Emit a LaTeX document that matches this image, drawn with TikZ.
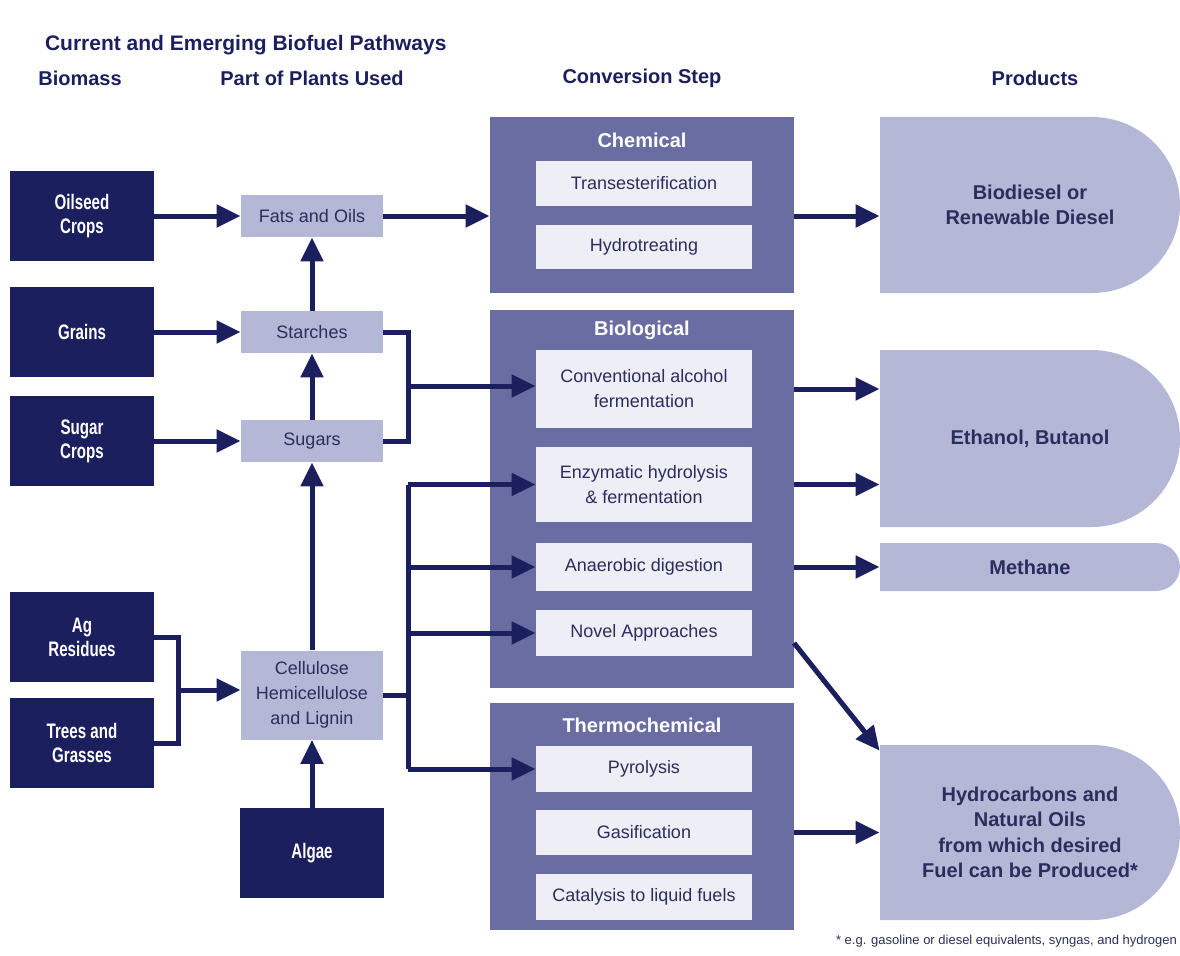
\documentclass[tikz,border=0pt]{standalone}
\usepackage{fontspec}
\setmainfont{Liberation Sans}
\newfontfamily\narrowfont{Liberation Sans}[FakeStretch=0.72]
\usetikzlibrary{positioning}
\usetikzlibrary{arrows.meta}
\definecolor{navy}{RGB}{27,31,94}
\definecolor{lav}{RGB}{181,183,215}
\definecolor{convcol}{RGB}{106,109,161}
\definecolor{inner}{RGB}{238,238,246}
\definecolor{ink}{RGB}{42,46,92}

\begin{document}
\begin{tikzpicture}[x=0.5pt,y=-0.5pt,
  biobox/.style={rectangle,fill=navy,text=white,font=\narrowfont\bfseries\fontsize{10.5}{12}\selectfont,minimum width=72pt,minimum height=45pt,align=center,inner sep=0pt},
  partbox/.style={rectangle,fill=lav,text=ink,font=\fontsize{9}{12.5}\selectfont,minimum width=71pt,minimum height=21pt,align=center,inner sep=0pt},
  convbox/.style={rectangle,fill=convcol,minimum width=152pt,inner sep=0pt},
  convtitle/.style={text=white,font=\bfseries\fontsize{10}{12}\selectfont},
  stepbox/.style={rectangle,fill=inner,text=ink,font=\fontsize{9}{12.5}\selectfont,minimum width=108pt,align=center,inner sep=0pt},
  prodbox/.style={rectangle,minimum width=150pt,minimum height=2*#1,inner sep=0pt,align=center,
    text=ink,font=\bfseries\fontsize{10}{12.7}\selectfont,
    path picture={\fill[lav,rounded corners=#1] ([xshift=-#1]path picture bounding box.north west) rectangle (path picture bounding box.south east);}},
  header/.style={text=navy,font=\bfseries\fontsize{10}{12}\selectfont},
  arr/.style={-{Triangle[length=12pt,width=11pt]},line width=2.5pt,draw=navy},
  lnk/.style={line width=2.5pt,draw=navy}]
\useasboundingbox (0,0) rectangle (1180,955);

\node[anchor=west,text=navy,font=\bfseries\fontsize{10.5}{13}\selectfont] (title) at (38,45) {Current and Emerging Biofuel Pathways};
\node[header] (hBiomass) at (80,78) {Biomass};
\node[header] (hParts) at (312,78) {Part of Plants Used};
\node[header] (hConv) at (642,78) {Conversion Step};
\node[header] (hProd) at (1035,78) {Products};

% biomass
\node[biobox] (oilseed) at (82,216) {Oilseed\\Crops};
\node[biobox] (grains) at (82,332) {Grains};
\node[biobox] (sugarcrops) at (82,441) {Sugar\\Crops};
\node[biobox] (agres) at (82,637) {Ag\\Residues};
\node[biobox] (trees) at (82,743) {Trees and\\Grasses};
\node[biobox] (algae) at (312,853) {Algae};

% parts of plants
\node[partbox] (fats) at (312,216) {Fats and Oils};
\node[partbox] (starches) at (312,332) {Starches};
\node[partbox] (sugars) at (312,441) {Sugars};
\node[partbox,minimum height=44.5pt] (cellulose) at (312,695) {Cellulose\\Hemicellulose\\and Lignin};

% conversion steps
\node[convbox,minimum height=88pt] (chem) at (642,205) {};
\node[convtitle] (chemT) at (642,140) {Chemical};
\node[stepbox,minimum height=22.5pt] (transest) at (644,183.5) {Transesterification};
\node[stepbox,minimum height=22pt] (hydrotr) at (644,247) {Hydrotreating};

\node[convbox,minimum height=189pt] (biol) at (642,499) {};
\node[convtitle] (biolT) at (642,330) {Biological};
\node[stepbox,minimum height=39pt] (convferm) at (644,389) {Conventional alcohol\\fermentation};
\node[stepbox,minimum height=37.5pt] (enzym) at (644,484.5) {Enzymatic hydrolysis\\\& fermentation};
\node[stepbox,minimum height=24pt] (anaer) at (644,567) {Anaerobic digestion};
\node[stepbox,minimum height=23pt] (novel) at (644,633) {Novel Approaches};

\node[convbox,minimum height=113.5pt] (thermo) at (642,816.5) {};
\node[convtitle] (thermoT) at (642,725) {Thermochemical};
\node[stepbox,minimum height=23pt] (pyro) at (644,769) {Pyrolysis};
\node[stepbox,minimum height=22.5pt] (gasif) at (644,832.5) {Gasification};
\node[stepbox,minimum height=23pt] (catal) at (644,897) {Catalysis to liquid fuels};

% products
\node[prodbox=44pt] (diesel) at (1030,205) {Biodiesel or\\Renewable Diesel};
\node[prodbox=44.25pt] (ethanol) at (1030,438.5) {Ethanol, Butanol};
\node[prodbox=12pt] (methane) at (1030,567) {Methane};
\node[prodbox=43.75pt] (hydrocarb) at (1030,832.5) {Hydrocarbons and\\Natural Oils\\from which desired\\Fuel can be Produced*};

\node[anchor=east,text=ink,font=\fontsize{6.5}{8}\selectfont] (note) at (1184,941) {* e.g. gasoline or diesel equivalents, syngas, and hydrogen};

% biomass to parts
\draw[arr] (oilseed) -- (fats);
\draw[arr] (grains) -- (starches);
\draw[arr] (sugarcrops) -- (sugars);
\draw[arr] (sugars) -- (starches);
\draw[arr] (starches) -- (fats);
\draw[arr] (cellulose) -- (sugars);
\draw[arr] (algae) -- (cellulose);
\coordinate (woodJ) at (178,690);
\draw[lnk] (agres.east) -| (woodJ) |- (trees.east);
\draw[arr] (woodJ) -- (cellulose.west |- woodJ);

% parts to conversion
\draw[arr] (fats) -- (chem.west |- fats);
\coordinate (sugJ) at (408,386);
\draw[lnk] (starches.east) -| (sugJ) |- (sugars.east);
\draw[arr] (sugJ) -- (convferm.west |- sugJ);
\coordinate (celJ) at (408,695);
\draw[lnk] (cellulose.east) -- (celJ);
\draw[lnk] (celJ |- enzym) -- (celJ |- pyro);
\draw[arr] (celJ |- enzym) -- (enzym);
\draw[arr] (celJ |- anaer) -- (anaer);
\draw[arr] (celJ |- novel) -- (novel);
\draw[arr] (celJ |- pyro) -- (pyro);

% conversion to products
\draw[arr] (chem.east |- fats) -- (diesel.west |- fats);
\draw[arr] (biol.east |- convferm) -- (ethanol.west |- convferm);
\draw[arr] (biol.east |- enzym) -- (ethanol.west |- enzym);
\draw[arr] (biol.east |- anaer) -- (methane);
\coordinate (novelOut) at (794,643);
\draw[arr] (novelOut) -- ([yshift=-3pt]hydrocarb.north west);
\draw[arr] (thermo.east |- gasif) -- (hydrocarb.west |- gasif);

\end{tikzpicture}
\end{document}
